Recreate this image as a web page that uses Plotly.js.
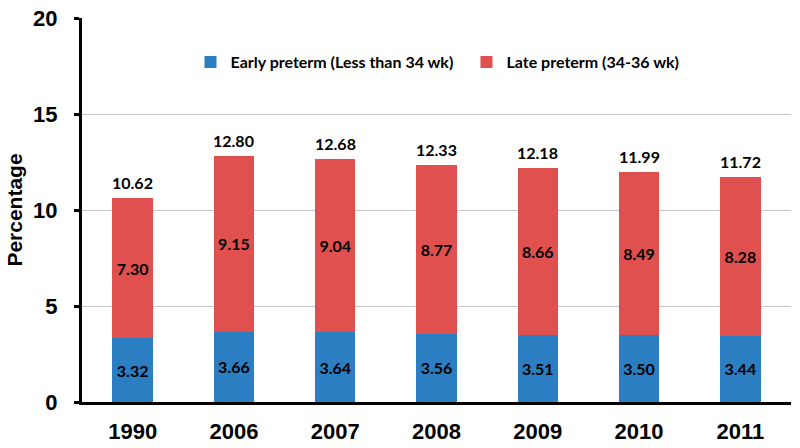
<!DOCTYPE html>
<html>
<head>
<meta charset="utf-8">
<script src="https://cdn.plot.ly/plotly-3.0.1.min.js"></script>
<style>
  html, body { margin: 0; padding: 0; background: #fff; }
  #chart { width: 800px; height: 448px; }
</style>
</head>
<body>
<div id="chart"></div>
<script>
var years = ['1990', '2006', '2007', '2008', '2009', '2010', '2011'];
var early = [3.32, 3.66, 3.64, 3.56, 3.51, 3.50, 3.44];
var late = [7.30, 9.15, 9.04, 8.77, 8.66, 8.49, 8.28];
var totals = [10.62, 12.80, 12.68, 12.33, 12.18, 11.99, 11.72];

var labelFont = {family: 'Lato, "Open Sans", sans-serif', size: 16, color: '#000', weight: 'bold'};
var axisFont = {family: 'Arial, "Liberation Sans", sans-serif', size: 22, color: '#000', weight: 'bold'};

var traces = [{
  type: 'bar',
  name: 'Early preterm (Less than 34 wk)',
  x: years,
  y: early,
  marker: {color: '#2B7EC2'},
  text: early.map(function (v) { return v.toFixed(2); }),
  textposition: 'inside',
  insidetextanchor: 'middle',
  textfont: labelFont,
  hoverinfo: 'none'
}, {
  type: 'bar',
  name: 'Late preterm (34-36 wk)',
  x: years,
  y: late,
  marker: {color: '#E0504F'},
  text: late.map(function (v) { return v.toFixed(2); }),
  textposition: 'inside',
  insidetextanchor: 'middle',
  textfont: labelFont,
  hoverinfo: 'none'
}];

// totals above each stack (category index, since the labels look numeric)
var notes = years.map(function (yr, i) {
  return {
    x: i, y: totals[i],
    text: totals[i].toFixed(2),
    showarrow: false,
    yanchor: 'bottom',
    yshift: 4,
    font: labelFont
  };
});

var layout = {
  width: 800,
  height: 448,
  margin: {l: 82, r: 9, t: 18, b: 46},
  barmode: 'stack',
  bargap: 0.6,
  paper_bgcolor: '#fff',
  plot_bgcolor: '#fff',
  showlegend: true,
  legend: {
    orientation: 'h',
    x: 0.153, xanchor: 'left',
    y: 0.885, yanchor: 'middle',
    font: {family: 'Lato, "Open Sans", sans-serif', size: 16, color: '#000', weight: 'bold'},
    itemwidth: 30,
    entrywidth: 231,
    traceorder: 'normal'
  },
  xaxis: {
    type: 'category',
    range: [-0.5, 6.5],
    showline: true,
    linecolor: '#000',
    linewidth: 3,
    ticks: '',
    ticklabelstandoff: 8,
    tickfont: axisFont,
    fixedrange: true
  },
  yaxis: {
    range: [0, 20],
    tickvals: [0, 5, 10, 15, 20],
    showline: true,
    linecolor: '#000',
    linewidth: 3,
    ticks: 'outside',
    ticklen: 5,
    tickwidth: 3,
    tickcolor: '#000',
    ticklabelstandoff: 12,
    showgrid: true,
    gridcolor: '#c4c4c4',
    gridwidth: 1,
    zeroline: false,
    tickfont: axisFont,
    title: {
      text: 'Percentage',
      standoff: 5,
      font: {family: 'Arial, "Liberation Sans", sans-serif', size: 21, color: '#000', weight: 'bold'}
    }
  },
  annotations: notes
};

Plotly.newPlot('chart', traces, layout, {displayModeBar: false, staticPlot: true});
</script>
</body>
</html>
